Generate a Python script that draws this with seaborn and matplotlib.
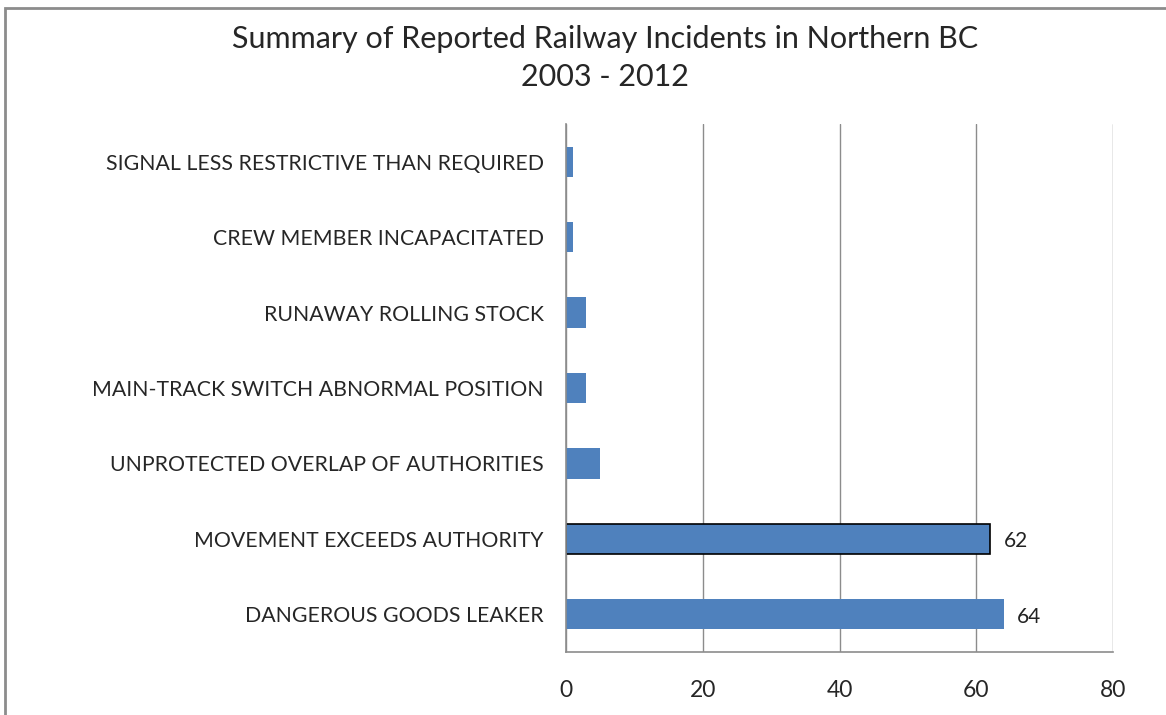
import matplotlib
matplotlib.use("Agg")
import matplotlib.pyplot as plt
import seaborn as sns
import pandas as pd
from matplotlib.patches import Rectangle
from matplotlib.ticker import FixedLocator

# данные
categories = [
    "SIGNAL LESS RESTRICTIVE THAN REQUIRED",
    "CREW MEMBER INCAPACITATED",
    "RUNAWAY ROLLING STOCK",
    "MAIN-TRACK SWITCH ABNORMAL POSITION",
    "UNPROTECTED OVERLAP OF AUTHORITIES",
    "MOVEMENT EXCEEDS AUTHORITY",
    "DANGEROUS GOODS LEAKER",
]
counts = [1, 1, 3, 3, 5, 62, 64]
labeled = ["MOVEMENT EXCEEDS AUTHORITY", "DANGEROUS GOODS LEAKER"]
x_ticks = [0, 20, 40, 60, 80]

df = pd.DataFrame({"incident": categories, "count": counts})

sns.set_style("white")
plt.rcParams["font.family"] = ["Lato", "DejaVu Sans"]

fig = plt.figure(figsize=(11.66, 7.15), dpi=100)
ax = fig.add_axes([0.4854, 0.0881, 0.4692, 0.7385])

sns.barplot(data=df, x="count", y="incident", order=categories,
            color="#4F81BD", saturation=1, width=0.4, ax=ax)

# выделенная полоса с чёрной рамкой
for patch, name in zip(ax.patches, categories):
    patch.set_linewidth(0)
    if name == "MOVEMENT EXCEEDS AUTHORITY":
        patch.set_edgecolor("black")
        patch.set_linewidth(1.2)
    if name in labeled:
        v = counts[categories.index(name)]
        ax.text(v + 2, patch.get_y() + patch.get_height() / 2 + 0.03, str(v),
                va="center", ha="left", fontsize=15, color="#222222")

ax.set_xlim(0, 80)
ax.set_ylim(len(categories) - 0.5, -0.5)
ax.set_xticks(x_ticks)
ax.set_xticklabels([str(t) for t in x_ticks], fontsize=16.5)
ax.xaxis.grid(True, color="#8c8c8c", linewidth=1)
ax.set_axisbelow(True)

ax.tick_params(axis="y", which="major", length=0, pad=16, labelsize=15.3)
ax.yaxis.set_minor_locator(FixedLocator([i - 0.5 for i in range(len(categories) + 1)]))
ax.tick_params(axis="y", which="minor", length=10, color="#8c8c8c", width=1.2)
ax.tick_params(axis="x", length=8, color="#8c8c8c", width=1.2, pad=12)

for s in ["top", "right"]:
    ax.spines[s].set_visible(False)
for s in ["left", "bottom"]:
    ax.spines[s].set_color("#8c8c8c")
    ax.spines[s].set_linewidth(1.2)

ax.set_xlabel("")
ax.set_ylabel("")

fig.text(0.519, 0.946, "Summary of Reported Railway Incidents in Northern BC",
         ha="center", va="center", fontsize=22)
fig.text(0.519, 0.892, "2003 - 2012", ha="center", va="center", fontsize=22)

fig.patches.append(Rectangle((5 / 1166, -0.1), 1.2, 1 - 8 / 715 + 0.1,
                             transform=fig.transFigure, fill=False,
                             edgecolor="#8c8c8c", linewidth=2))

plt.savefig("out.png", dpi=100)
